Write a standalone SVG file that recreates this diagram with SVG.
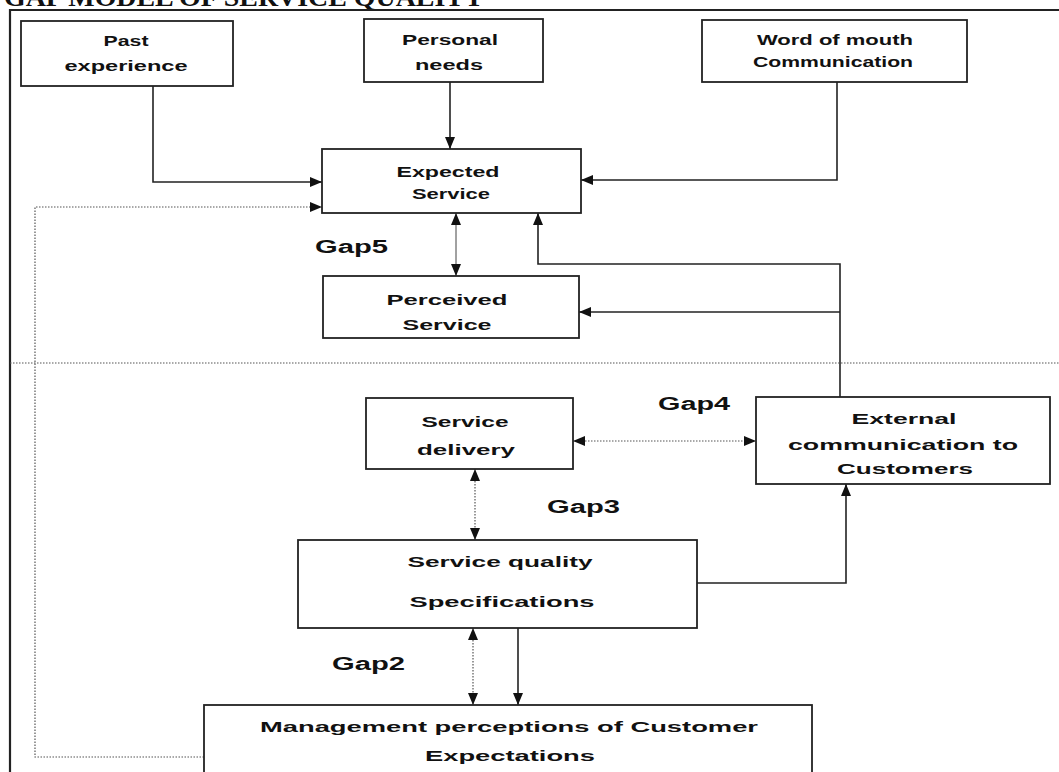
<svg xmlns="http://www.w3.org/2000/svg" width="1059" height="772" viewBox="0 0 1059 772">
<style>
.box{fill:#fff;stroke:#222;stroke-width:1.8}
.t{font-family:"Liberation Sans",Arial,sans-serif;font-weight:bold;font-size:15px;fill:#111;text-anchor:middle}
.g{font-family:"Liberation Sans",Arial,sans-serif;font-weight:bold;font-size:18px;fill:#111}
.c{fill:none;stroke:#222;stroke-width:1.6}
.thin{fill:none;stroke:#444;stroke-width:1}
.dot{fill:none;stroke:#555;stroke-width:1.2;stroke-dasharray:1.5 1.5}
</style>
<defs>
<marker id="ah" markerWidth="12" markerHeight="10" refX="12" refY="5" orient="auto-start-reverse" markerUnits="userSpaceOnUse">
<path d="M0,0 L12,5 L0,10 z" fill="#111"/>
</marker>
</defs>
<rect width="1059" height="772" fill="#fff"/>
<text x="4" y="6" font-family="'Liberation Serif','Times New Roman',serif" font-weight="bold" font-size="26" fill="#111" textLength="480" lengthAdjust="spacingAndGlyphs">GAP MODEL OF SERVICE QUALITY</text>
<path d="M10,772 V10 H1059" fill="none" stroke="#222" stroke-width="2.2"/>
<g id="connectors">
<path class="c" d="M153,86 V182 H322" marker-end="url(#ah)"/>
<path class="c" d="M450,82 V149" marker-end="url(#ah)"/>
<path class="c" d="M837,82 V180 H581" marker-end="url(#ah)"/>
<path class="dot" d="M204,757 H35 V207 H322" marker-end="url(#ah)"/>
<path class="thin" d="M456,213 V276" marker-start="url(#ah)" marker-end="url(#ah)"/>
<path class="c" d="M840,397 V264 H538 V213" marker-end="url(#ah)"/>
<path class="c" d="M840,312 H579" marker-end="url(#ah)"/>
<path class="dot" d="M10,363 H1059"/>
<path class="dot" d="M573,441 H756" marker-start="url(#ah)" marker-end="url(#ah)"/>
<path class="dot" d="M475,469 V540" marker-start="url(#ah)" marker-end="url(#ah)"/>
<path class="c" d="M697,583 H846 V484" marker-end="url(#ah)"/>
<path class="dot" d="M473,628 V705" marker-start="url(#ah)" marker-end="url(#ah)"/>
<path class="c" d="M518,628 V705" marker-end="url(#ah)"/>
</g>
<g id="past">
<rect class="box" x="21" y="21" width="212" height="65"/>
<text class="t" x="126" y="46" textLength="45" lengthAdjust="spacingAndGlyphs">Past</text>
<text class="t" x="126" y="71" textLength="123" lengthAdjust="spacingAndGlyphs">experience</text>
</g>
<g id="personal">
<rect class="box" x="364" y="19" width="179" height="63"/>
<text class="t" x="450" y="45" textLength="96" lengthAdjust="spacingAndGlyphs">Personal</text>
<text class="t" x="449" y="70" textLength="68" lengthAdjust="spacingAndGlyphs">needs</text>
</g>
<g id="wom">
<rect class="box" x="702" y="20" width="265" height="62"/>
<text class="t" x="835" y="45" textLength="156" lengthAdjust="spacingAndGlyphs" style="font-size:14px">Word of mouth</text>
<text class="t" x="833" y="67" textLength="160" lengthAdjust="spacingAndGlyphs" style="font-size:14px">Communication</text>
</g>
<g id="expected">
<rect class="box" x="322" y="149" width="259" height="64"/>
<text class="t" x="448" y="177" textLength="103" lengthAdjust="spacingAndGlyphs">Expected</text>
<text class="t" x="451" y="199" textLength="78" lengthAdjust="spacingAndGlyphs">Service</text>
</g>
<g id="perceived">
<rect class="box" x="323" y="276" width="256" height="62"/>
<text class="t" x="447" y="305" textLength="121" lengthAdjust="spacingAndGlyphs">Perceived</text>
<text class="t" x="447" y="330" textLength="89" lengthAdjust="spacingAndGlyphs">Service</text>
</g>
<g id="delivery">
<rect class="box" x="366" y="398" width="207" height="71"/>
<text class="t" x="465" y="427" textLength="87" lengthAdjust="spacingAndGlyphs">Service</text>
<text class="t" x="466" y="455" textLength="98" lengthAdjust="spacingAndGlyphs">delivery</text>
</g>
<g id="external">
<rect class="box" x="756" y="397" width="294" height="87"/>
<text class="t" x="904" y="424" textLength="105" lengthAdjust="spacingAndGlyphs">External</text>
<text class="t" x="903" y="450" textLength="230" lengthAdjust="spacingAndGlyphs">communication to</text>
<text class="t" x="905" y="474" textLength="136" lengthAdjust="spacingAndGlyphs">Customers</text>
</g>
<g id="specs">
<rect class="box" x="298" y="540" width="399" height="88"/>
<text class="t" x="500" y="567" textLength="185" lengthAdjust="spacingAndGlyphs">Service quality</text>
<text class="t" x="502" y="607" textLength="185" lengthAdjust="spacingAndGlyphs">Specifications</text>
</g>
<g id="management">
<rect class="box" x="204" y="705" width="608" height="80"/>
<text class="t" x="509" y="732" textLength="498" lengthAdjust="spacingAndGlyphs">Management perceptions of Customer</text>
<text class="t" x="510" y="761" textLength="170" lengthAdjust="spacingAndGlyphs">Expectations</text>
</g>
<g id="gaps">
<text class="g" x="315" y="253" textLength="73" lengthAdjust="spacingAndGlyphs">Gap5</text>
<text class="g" x="658" y="410" textLength="72" lengthAdjust="spacingAndGlyphs">Gap4</text>
<text class="g" x="547" y="513" textLength="73" lengthAdjust="spacingAndGlyphs">Gap3</text>
<text class="g" x="332" y="670" textLength="73" lengthAdjust="spacingAndGlyphs">Gap2</text>
</g>
</svg>
